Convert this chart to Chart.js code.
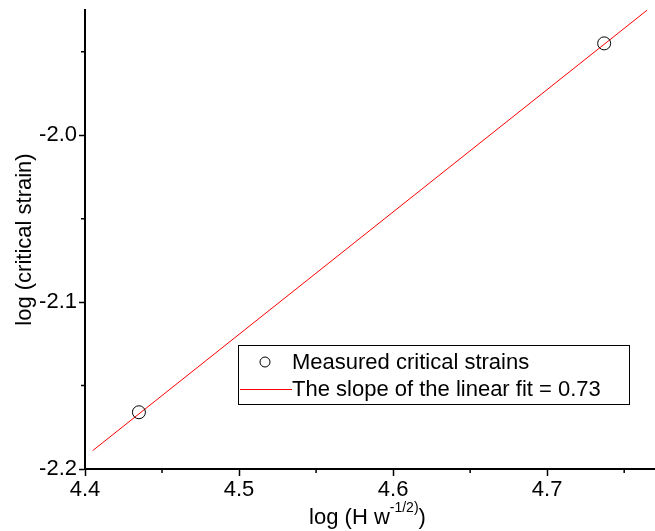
<!DOCTYPE html>
<html>
<head>
<meta charset="utf-8">
<script src="https://cdn.jsdelivr.net/npm/chart.js@4"></script>
<style>
  body { margin: 0; background: #fff; }
  #wrap { width: 655px; height: 531px; position: relative; }
</style>
</head>
<body>
<div id="wrap"><canvas id="chart"></canvas></div>
<script>
// values
const measuredX = [4.435, 4.737];
const measuredY = [-2.166, -1.945];
const fitX = [4.405, 4.765];
const fitY = [-2.189, -1.925];

const measuredLabel = 'Measured critical strains';
const fitLabel = 'The slope of the linear fit = 0.73';
const yTitle = 'log (critical strain)';

const FONT = '"Liberation Sans", Arial, sans-serif';

function toPoints(xs, ys) {
    let pts = [];
    for (let i = 0; i < xs.length; i++) {
        pts.push({x: xs[i], y: ys[i]});
    }
    return pts;
}

// short minor ticks halfway between the labelled ones
const minorTicks = {
    id: 'minorTicks',
    afterDraw(chart) {
        const ctx = chart.ctx;
        const xs = chart.scales.x, ys = chart.scales.y;
        ctx.save();
        ctx.strokeStyle = '#000';
        ctx.lineWidth = 1.5;
        ctx.beginPath();
        xs.ticks.forEach(t => {
            let v = t.value + 0.05;
            if (v > xs.max) return;
            let px = xs.getPixelForValue(v);
            ctx.moveTo(px, xs.top);
            ctx.lineTo(px, xs.top + 4);
        });
        ys.ticks.forEach(t => {
            let v = t.value + 0.05;
            if (v > ys.max) return;
            let py = ys.getPixelForValue(v);
            ctx.moveTo(ys.right, py);
            ctx.lineTo(ys.right - 4, py);
        });
        ctx.stroke();
        ctx.restore();
    }
};

// x title with superscript
const xTitle = {
    id: 'xTitle',
    afterDraw(chart) {
        const ctx = chart.ctx;
        const xs = chart.scales.x;
        const cx = (xs.left + xs.right) / 2 - 2.5;
        const base = 524;
        ctx.save();
        ctx.fillStyle = '#000';
        ctx.textBaseline = 'alphabetic';
        ctx.textAlign = 'left';
        const a = 'log (H w', b = '-1/2)', c = ')';
        ctx.font = '22px ' + FONT;
        const wa = ctx.measureText(a).width, wc = ctx.measureText(c).width;
        ctx.font = '14px ' + FONT;
        const wb = ctx.measureText(b).width;
        let x = cx - (wa + wb + wc) / 2;
        ctx.font = '22px ' + FONT;
        ctx.fillText(a, x, base);
        ctx.font = '14px ' + FONT;
        ctx.fillText(b, x + wa, base - 12);
        ctx.font = '22px ' + FONT;
        ctx.fillText(c, x + wa + wb, base);
        ctx.restore();
    }
};

// boxed legend inside the plot
const boxLegend = {
    id: 'boxLegend',
    afterDraw(chart) {
        const ctx = chart.ctx;
        const ds = chart.data.datasets;
        ctx.save();
        ctx.strokeStyle = '#000';
        ctx.lineWidth = 1;
        ctx.strokeRect(238.5, 345.5, 391, 59);
        ctx.font = '22px ' + FONT;
        ctx.fillStyle = '#000';
        ctx.textBaseline = 'middle';
        ctx.textAlign = 'left';
        // row 1: circle marker
        ctx.beginPath();
        ctx.arc(265, 362, 5, 0, Math.PI * 2);
        ctx.lineWidth = 1;
        ctx.strokeStyle = ds[0].borderColor;
        ctx.stroke();
        ctx.fillText(ds[0].label, 292, 363);
        // row 2: red line
        ctx.beginPath();
        ctx.moveTo(240, 389.5);
        ctx.lineTo(292, 389.5);
        ctx.strokeStyle = ds[1].borderColor;
        ctx.stroke();
        ctx.fillText(ds[1].label, 292, 390);
        ctx.restore();
    }
};

var ctx = document.getElementById('chart').getContext('2d');
var mychart = new Chart(ctx, {
    type: 'scatter',
    data: {
        datasets: [{
            label: measuredLabel,
            data: toPoints(measuredX, measuredY),
            showLine: false,
            pointRadius: 6.5,
            pointHoverRadius: 6.5,
            pointBorderWidth: 1,
            borderColor: '#000',
            backgroundColor: 'rgba(0,0,0,0)',
            order: 1
        }, {
            label: fitLabel,
            data: toPoints(fitX, fitY),
            showLine: true,
            pointRadius: 0,
            borderColor: '#ff0000',
            borderWidth: 1,
            order: 2
        }]
    },
    options: {
        responsive: true,
        maintainAspectRatio: false,
        animation: false,
        layout: { autoPadding: false, padding: { top: 10, right: 0, left: 0, bottom: 0 } },
        plugins: {
            legend: { display: false },
            tooltip: { enabled: false }
        },
        scales: {
            x: {
                type: 'linear',
                min: 4.4,
                max: 4.77,
                border: { display: true, color: '#000', width: 2 },
                grid: { drawOnChartArea: false, drawTicks: true, tickLength: 7, tickColor: '#000', tickWidth: 1.5 },
                ticks: {
                    stepSize: 0.1,
                    includeBounds: false,
                    color: '#000',
                    padding: 1,
                    maxRotation: 0,
                    font: { family: FONT, size: 22 },
                    callback: v => v.toFixed(1)
                },
                afterFit: s => { s.height = 62; s.paddingLeft = 0; s.paddingRight = 0; }
            },
            y: {
                type: 'linear',
                min: -2.2,
                max: -1.925,
                border: { display: true, color: '#000', width: 2 },
                grid: { drawOnChartArea: false, drawTicks: true, tickLength: 6, tickColor: '#000', tickWidth: 1.5 },
                ticks: {
                    stepSize: 0.1,
                    includeBounds: false,
                    color: '#000',
                    padding: 2,
                    font: { family: FONT, size: 22 },
                    callback: v => v.toFixed(1)
                },
                title: {
                    display: true,
                    text: yTitle,
                    color: '#000',
                    font: { family: FONT, size: 22 },
                    padding: { top: 12, bottom: 0 }
                },
                afterFit: s => { s.width = 85; s.paddingTop = 0; s.paddingBottom = 0; }
            }
        }
    },
    plugins: [minorTicks, xTitle, boxLegend]
});
</script>
</body>
</html>
